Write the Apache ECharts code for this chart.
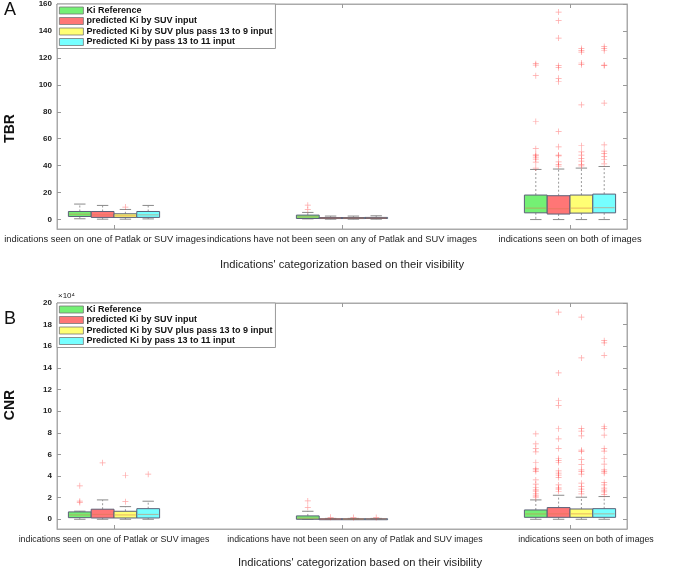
<!DOCTYPE html>
<html>
<head>
<meta charset="utf-8">
<script src="https://cdn.jsdelivr.net/npm/echarts@6/dist/echarts.min.js"></script>
<style>
  html, body { margin: 0; padding: 0; background: #fff; }
  #main { width: 685px; height: 573px; }
</style>
</head>
<body>
<div id="main"></div>
<script>
// categories and methods
var categories = [
  'indications seen on one of Patlak or SUV images',
  'indications have not been seen on any of Patlak and SUV images',
  'indications seen on both of images'
];
var methods = [
  'Ki Reference',
  'predicted Ki by SUV input',
  'Predicted Ki by SUV plus pass 13 to 9 input',
  'Predicted Ki by pass 13 to 11 input'
];
var tbrTicks = [0, 20, 40, 60, 80, 100, 120, 140, 160];
var cnrTicks = [0, 2, 4, 6, 8, 10, 12, 14, 16, 18, 20];

// box stats per category: [lower whisker, q1, median, q3, upper whisker]
var tbrRef   = [[0.6, 2.3, 4.0, 6.0, 11.5], [0.5, 0.8, 2.0, 3.3, 5.3], [0, 5.0, 8.5, 18.2, 37.2]];
var tbrSuv   = [[0.3, 1.6, 3.5, 6.0, 10.5], [0.3, 0.8, 1.1, 1.5, 2.6], [0, 4.1, 8.0, 17.7, 37.5]];
var tbrSuv9  = [[0.3, 1.6, 2.8, 4.3, 7.5],  [0.3, 0.8, 1.1, 1.5, 2.6], [0, 4.8, 8.5, 18.2, 38.2]];
var tbrPass  = [[0.5, 1.6, 3.5, 6.0, 10.5], [0.3, 0.8, 1.1, 1.6, 2.8], [0, 5.0, 8.8, 18.9, 39.4]];

// outliers: [category index, value]
var tbrRefOut = [[1, 10.7], [1, 7.3],
  [2, 115.7], [2, 114.7], [2, 106.8], [2, 72.8], [2, 52.6], [2, 48.3], [2, 47.4], [2, 46.4], [2, 44.9], [2, 42.7], [2, 38.2]];
var tbrSuvOut = [[2, 154.0], [2, 147.6], [2, 134.7], [2, 114.2], [2, 112.7], [2, 104.8], [2, 102.3], [2, 65.4],
  [2, 54.0], [2, 47.9], [2, 47.3], [2, 42.8], [2, 40.9], [2, 39.7]];
var tbrSuv9Out = [[0, 9.3], [2, 127.0], [2, 125.6], [2, 124.3], [2, 116.2], [2, 115.0], [2, 85.2], [2, 54.8],
  [2, 50.3], [2, 47.9], [2, 45.4], [2, 43.4], [2, 40.9], [2, 39.9]];
var tbrPassOut = [[2, 128.5], [2, 127.0], [2, 125.3], [2, 114.7], [2, 114.2], [2, 86.5], [2, 55.5], [2, 50.8],
  [2, 48.9], [2, 46.9], [2, 44.4], [2, 41.4]];

// CNR, in units of 10^4
var cnrRef   = [[0, 0.15, 0.40, 0.68, 0.75], [0, 0.0, 0.10, 0.31, 0.74], [0, 0.18, 0.49, 0.86, 1.79]];
var cnrSuv   = [[0, 0.12, 0.45, 0.93, 1.79], [0, 0.01, 0.03, 0.05, 0.08], [0, 0.18, 0.50, 1.08, 2.22]];
var cnrSuv9  = [[0, 0.12, 0.40, 0.74, 1.17], [0, 0.01, 0.03, 0.05, 0.08], [0, 0.18, 0.50, 0.95, 2.04]];
var cnrPass  = [[0, 0.12, 0.45, 0.98, 1.67], [0, 0.01, 0.03, 0.05, 0.08], [0, 0.18, 0.50, 0.98, 2.10]];

var cnrRefOut = [[0, 3.09], [0, 1.67], [0, 1.54], [1, 1.70], [1, 1.11],
  [2, 7.90], [2, 6.98], [2, 6.55], [2, 6.24], [2, 5.25], [2, 4.69], [2, 4.57], [2, 4.41], [2, 3.64], [2, 3.24],
  [2, 2.96], [2, 2.71], [2, 2.60], [2, 2.34], [2, 2.16], [2, 2.04]];
var cnrSuvOut = [[0, 5.22], [1, 0.18],
  [2, 19.15], [2, 13.53], [2, 10.96], [2, 10.53], [2, 8.37], [2, 7.44], [2, 6.55], [2, 5.62], [2, 5.43], [2, 5.25],
  [2, 4.48], [2, 4.26], [2, 4.08], [2, 3.86], [2, 3.18], [2, 2.90], [2, 2.78], [2, 2.59]];
var cnrSuv9Out = [[0, 4.07], [0, 1.63], [1, 0.16],
  [2, 18.69], [2, 14.92], [2, 8.40], [2, 8.15], [2, 7.72], [2, 6.39], [2, 6.27], [2, 5.52], [2, 5.06], [2, 4.57],
  [2, 4.41], [2, 4.17], [2, 3.34], [2, 3.02], [2, 2.78], [2, 2.59], [2, 2.34]];
var cnrPassOut = [[0, 4.17], [1, 0.16],
  [2, 16.52], [2, 16.31], [2, 15.16], [2, 8.58], [2, 8.40], [2, 7.78], [2, 6.55], [2, 6.30], [2, 5.62], [2, 5.10],
  [2, 4.57], [2, 4.41], [2, 4.26], [2, 3.39], [2, 3.18], [2, 2.87], [2, 2.69], [2, 2.53], [2, 2.28]];

var colors = ['#74f074', '#ff7676', '#ffff74', '#76ffff'];
var boxW = 0.1;
var font = "'Liberation Sans', Arial, sans-serif";

function dodge(m) { return (m - 1.5) * boxW; }

function boxRender(m) {
  return function (params, api) {
    var x = api.value(0) + dodge(m);
    var lo = api.coord([x, api.value(1)]);
    var q1 = api.coord([x, api.value(2)]);
    var md = api.coord([x, api.value(3)]);
    var q3 = api.coord([x, api.value(4)]);
    var hi = api.coord([x, api.value(5)]);
    var w = api.size([boxW, 0])[0];
    var cx = lo[0];
    var cap = w * 0.25;
    var dash = { stroke: '#9a9a9a', lineWidth: 1, lineDash: [2, 2] };
    var capStyle = { stroke: '#8a8a8a', lineWidth: 1 };
    return {
      type: 'group',
      children: [
        { type: 'line', shape: { x1: cx, y1: q3[1], x2: cx, y2: hi[1] }, style: dash },
        { type: 'line', shape: { x1: cx, y1: q1[1], x2: cx, y2: lo[1] }, style: dash },
        { type: 'line', shape: { x1: cx - cap, y1: hi[1], x2: cx + cap, y2: hi[1] }, style: capStyle },
        { type: 'line', shape: { x1: cx - cap, y1: lo[1], x2: cx + cap, y2: lo[1] }, style: capStyle },
        { type: 'rect', shape: { x: cx - w / 2, y: q3[1], width: w, height: Math.max(q1[1] - q3[1], 1) },
          style: { fill: colors[m], stroke: '#5c6078', lineWidth: 1 } },
        { type: 'line', shape: { x1: cx - w / 2 + 1, y1: md[1], x2: cx + w / 2 - 1, y2: md[1] },
          style: { stroke: 'rgba(215,120,80,0.55)', lineWidth: 1 } }
      ]
    };
  };
}

function boxData(stats) {
  return stats.map(function (s, i) { return [i + 1].concat(s); });
}
function outData(list, m) {
  return list.map(function (p) { return [p[0] + 1 + dodge(m), p[1]]; });
}

var plus = 'path://M4.4,0 H5.6 V4.4 H10 V5.6 H5.6 V10 H4.4 V5.6 H0 V4.4 H4.4 Z';

function labelFormatter(v) {
  var i = Math.round(v) - 1;
  return '{l' + i + '|' + categories[i] + '}';
}
function labelRich(shifts, size) {
  var rich = {};
  shifts.forEach(function (s, i) {
    rich['l' + i] = {
      fontFamily: font, fontSize: size, color: '#222',
      padding: s < 0 ? [0, -2 * s, 0, 0] : [0, 0, 0, 2 * s]
    };
  });
  return rich;
}

var grids = [
  { left: 57, right: 58, top: 4, height: 225 },
  { left: 57, right: 58, top: 303, height: 226 }
];
var panels = [
  { name: 'TBR', min: -7, max: 160, ticks: tbrTicks, shifts: [-9, 0, 0], labelSize: 9.3, nameShift: 0, axisNameGap: 30,
    boxes: [tbrRef, tbrSuv, tbrSuv9, tbrPass], outs: [tbrRefOut, tbrSuvOut, tbrSuv9Out, tbrPassOut], yPad: [0, 24, 0, 0] },
  { name: 'CNR', min: -0.9, max: 20, ticks: cnrTicks, shifts: [0, 13, 16], labelSize: 8.8, nameShift: 18, axisNameGap: 28,
    boxes: [cnrRef, cnrSuv, cnrSuv9, cnrPass], outs: [cnrRefOut, cnrSuvOut, cnrSuv9Out, cnrPassOut], yPad: [0, 0, 0, 22] }
];

var xAxes = [], yAxes = [], series = [], legends = [];
panels.forEach(function (p, k) {
  xAxes.push({
    type: 'value', gridIndex: k, min: 0.75, max: 3.25, position: 'bottom',
    name: "Indications' categorization based on their visibility",
    nameLocation: 'middle', nameGap: p.axisNameGap,
    nameTextStyle: { fontFamily: font, fontSize: 11.2, color: '#222',
      padding: p.nameShift ? [0, 0, 0, 2 * p.nameShift] : 0 },
    axisLine: { onZero: false, lineStyle: { color: '#aaa' } },
    axisTick: { inside: true, length: 4, customValues: [1, 2, 3], lineStyle: { color: '#999' } },
    axisLabel: { customValues: [1, 2, 3], margin: 6, hideOverlap: false, interval: 0,
      formatter: labelFormatter, rich: labelRich(p.shifts, p.labelSize) },
    splitLine: { show: false }
  });
  xAxes.push({
    type: 'value', gridIndex: k, min: 0.75, max: 3.25, position: 'top',
    axisLine: { onZero: false, lineStyle: { color: '#aaa' } },
    axisTick: { inside: true, length: 4, customValues: [1, 2, 3], lineStyle: { color: '#999' } },
    axisLabel: { show: false }, splitLine: { show: false }
  });
  yAxes.push({
    type: 'value', gridIndex: k, min: p.min, max: p.max, position: 'left',
    name: p.name, nameLocation: 'middle', nameGap: 40,
    nameTextStyle: { fontFamily: font, fontSize: 14, fontWeight: 'bold', color: '#111', padding: p.yPad },
    axisLine: { onZero: false, lineStyle: { color: '#aaa' } },
    axisTick: { inside: true, length: 4, customValues: p.ticks, lineStyle: { color: '#999' } },
    axisLabel: { customValues: p.ticks, margin: 5, fontFamily: font, fontSize: 8, fontWeight: 'bold', color: '#222' },
    splitLine: { show: false }
  });
  yAxes.push({
    type: 'value', gridIndex: k, min: p.min, max: p.max, position: 'right',
    axisLine: { onZero: false, lineStyle: { color: '#aaa' } },
    axisTick: { inside: true, length: 4, customValues: p.ticks, lineStyle: { color: '#999' } },
    axisLabel: { show: false }, splitLine: { show: false }
  });
  p.boxes.forEach(function (stats, m) {
    series.push({
      type: 'custom', name: methods[m], xAxisIndex: 2 * k, yAxisIndex: 2 * k,
      itemStyle: { color: colors[m] },
      renderItem: boxRender(m),
      encode: { x: 0, y: [1, 2, 3, 4, 5] },
      data: boxData(stats), z: 2
    });
  });
  p.outs.forEach(function (list, m) {
    series.push({
      type: 'scatter', name: 'outliers ' + k + m, xAxisIndex: 2 * k, yAxisIndex: 2 * k,
      symbol: plus, symbolSize: 6,
      itemStyle: { color: 'rgba(255,50,50,0.55)' },
      data: outData(list, m), z: 3, silent: true
    });
  });
  legends.push({
    data: methods, orient: 'vertical', left: 57, top: grids[k].top,
    itemWidth: 24, itemHeight: 7, itemGap: 1.5, icon: 'rect',
    backgroundColor: '#fff', borderColor: '#999', borderWidth: 1, padding: [2, 3, 2, 2],
    itemStyle: { borderColor: '#777', borderWidth: 0.8 },
    textStyle: { fontFamily: font, fontSize: 9, fontWeight: 'bold', color: '#111', padding: [0, 0, 0, -2] },
    z: 10
  });
});

var chart = echarts.init(document.getElementById('main'), null, { renderer: 'canvas' });
chart.setOption({
  backgroundColor: '#fff',
  animation: false,
  grid: grids.map(function (g) {
    return Object.assign({ show: true, borderColor: '#aaa', borderWidth: 1, containLabel: false, outerBoundsMode: 'none' }, g);
  }),
  xAxis: xAxes,
  yAxis: yAxes,
  legend: legends,
  series: series,
  graphic: [
    { type: 'text', left: 4, top: 1, style: { text: 'A', fontFamily: font, fontSize: 18, fill: '#111' } },
    { type: 'text', left: 4, top: 310, style: { text: 'B', fontFamily: font, fontSize: 18, fill: '#111' } },
    { type: 'text', left: 58, top: 292, style: { text: '×10⁴', fontFamily: font, fontSize: 8, fill: '#222' } }
  ]
});
</script>
</body>
</html>
